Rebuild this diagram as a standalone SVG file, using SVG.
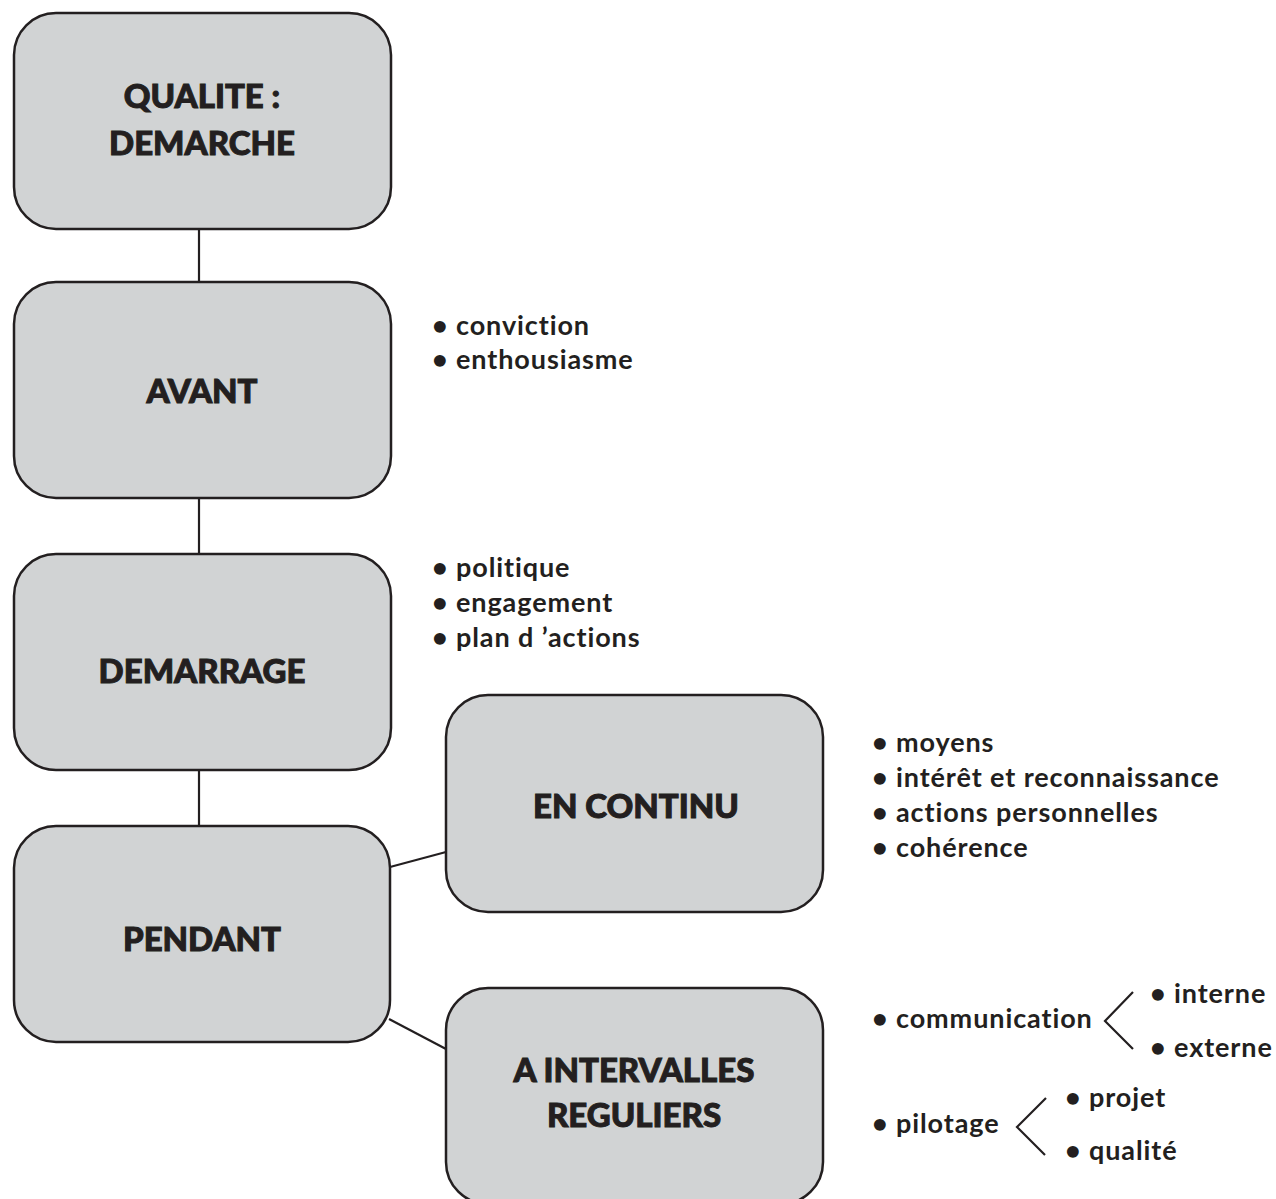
<svg xmlns="http://www.w3.org/2000/svg" width="1276" height="1199" viewBox="0 0 1276 1199">
<style>
.box{fill:#d1d3d4;stroke:#231f20;stroke-width:2.5}
.title{font-family:Lato,"Liberation Sans",sans-serif;font-weight:900;font-size:33px;fill:#231f20;stroke:#231f20;stroke-width:1;text-anchor:middle}
.item{font-family:Lato,"Liberation Sans",sans-serif;font-weight:700;font-size:27px;letter-spacing:0.9px;fill:#231f20}
.conn{stroke:#231f20;stroke-width:2.2;fill:none}
</style>
<rect width="1276" height="1199" fill="#ffffff"/>
<g id="connectors">
<line class="conn" x1="199" y1="229" x2="199" y2="283"/>
<line class="conn" x1="199" y1="498" x2="199" y2="554"/>
<line class="conn" x1="199" y1="770" x2="199" y2="826"/>
<line class="conn" x1="390" y1="867" x2="446" y2="852"/>
<line class="conn" x1="389" y1="1019" x2="446" y2="1049"/>
<polyline class="conn" points="1133,992 1105,1021 1133,1049"/>
<polyline class="conn" points="1046,1098 1017,1127 1045,1155"/>
</g>
<g id="node-qualite">
<rect class="box" x="14" y="13" width="377" height="216" rx="42"/>
<text class="title" x="202" y="108">QUALITE :</text>
<text class="title" x="202" y="155">DEMARCHE</text>
</g>
<g id="node-avant">
<rect class="box" x="14" y="282" width="377" height="216" rx="42"/>
<text class="title" x="202" y="403">AVANT</text>
</g>
<g id="node-demarrage">
<rect class="box" x="14" y="554" width="377" height="216" rx="42"/>
<text class="title" x="202" y="683">DEMARRAGE</text>
</g>
<g id="node-pendant">
<rect class="box" x="14" y="826" width="376" height="216" rx="42"/>
<text class="title" x="202" y="951">PENDANT</text>
</g>
<g id="node-encontinu">
<rect class="box" x="446" y="695" width="377" height="217" rx="42"/>
<text class="title" x="636" y="818">EN CONTINU</text>
</g>
<g id="node-intervalles">
<rect class="box" x="446" y="988" width="377" height="216" rx="42"/>
<text class="title" x="634" y="1082">A INTERVALLES</text>
<text class="title" x="634" y="1127">REGULIERS</text>
</g>
<g id="list-avant">
<text class="item" x="432" y="335">• conviction</text>
<text class="item" x="432" y="369">• enthousiasme</text>
</g>
<g id="list-demarrage">
<text class="item" x="432" y="577">• politique</text>
<text class="item" x="432" y="612">• engagement</text>
<text class="item" x="432" y="647">• plan d ’actions</text>
</g>
<g id="list-encontinu">
<text class="item" x="872" y="752">• moyens</text>
<text class="item" x="872" y="787">• intérêt et reconnaissance</text>
<text class="item" x="872" y="822">• actions personnelles</text>
<text class="item" x="872" y="857">• cohérence</text>
</g>
<g id="list-intervalles">
<text class="item" x="872" y="1028">• communication</text>
<text class="item" x="1150" y="1003">• interne</text>
<text class="item" x="1150" y="1057">• externe</text>
<text class="item" x="872" y="1133">• pilotage</text>
<text class="item" x="1065" y="1107">• projet</text>
<text class="item" x="1065" y="1160">• qualité</text>
</g>
</svg>
